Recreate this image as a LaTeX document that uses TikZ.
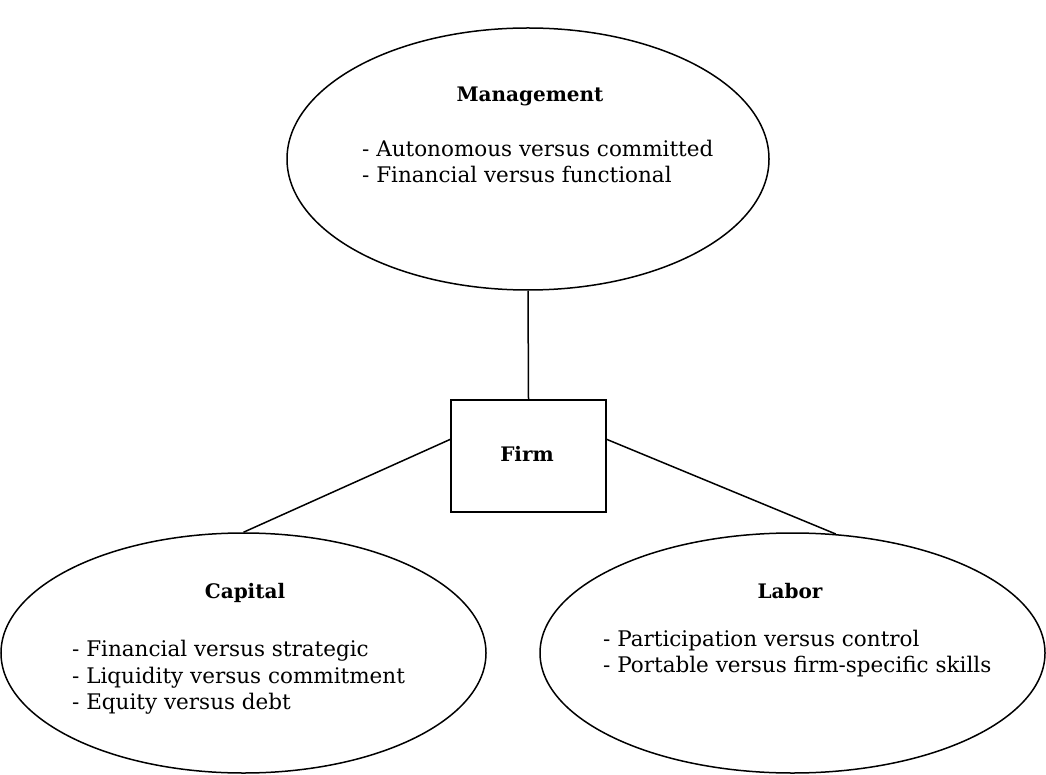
\documentclass[tikz,border=0pt]{standalone}
\usepackage{fontspec}
\setmainfont{DejaVu Serif}
\usetikzlibrary{shapes.geometric}
\begin{document}
\begin{tikzpicture}[x=1pt,y=-1pt,
  oval/.style={draw, ellipse, line width=1.5pt, inner sep=0pt},
  firmbox/.style={draw, rectangle, line width=1.5pt, inner sep=0pt, minimum width=155pt, minimum height=112pt},
  head/.style={font=\fontsize{20}{24}\selectfont\bfseries, inner sep=0pt, anchor=base},
  item/.style={font=\fontsize{21.5}{26}\selectfont, inner sep=0pt, anchor=base west},
  link/.style={line width=1.5pt}]
\useasboundingbox (0,0) rectangle (1046,775);
\node[oval, minimum width=482pt, minimum height=262pt] (mgmt) at (528,159) {};
\node[firmbox] (firm) at (528.5,456) {};
\node[oval, minimum width=485pt, minimum height=240pt] (cap) at (243.5,653) {};
\node[oval, minimum width=505pt, minimum height=240pt] (lab) at (792.5,653) {};
\node[head] (mgmthead) at (530,102) {Management};
\node[item] (mgmt1) at (362,157) {- Autonomous versus committed};
\node[item] (mgmt2) at (362,183) {- Financial versus functional};
\node[head] (firmhead) at (527,461) {Firm};
\node[head] (caphead) at (245,598) {Capital};
\node[item] (cap1) at (72,656) {- Financial versus strategic};
\node[item] (cap2) at (72,683) {- Liquidity versus commitment};
\node[item] (cap3) at (72,709) {- Equity versus debt};
\node[head] (labhead) at (790,598) {Labor};
\node[item] (lab1) at (603,646) {- Participation versus control};
\node[item] (lab2) at (603,672) {- Portable versus firm-specific skills};
\draw[link] (mgmt.south) -- (firm.north);
\draw[link] (firm.168) -- (cap.north);
\draw[link] (firm.12) -- (lab.70);
\end{tikzpicture}
\end{document}
